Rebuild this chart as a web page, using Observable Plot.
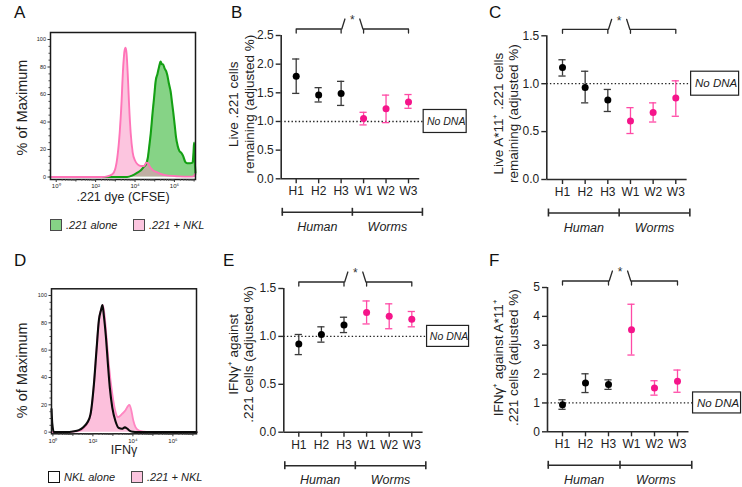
<!DOCTYPE html>
<html><head><meta charset="utf-8">
<script src="https://cdn.jsdelivr.net/npm/d3@7"></script>
<script src="https://cdn.jsdelivr.net/npm/@observablehq/plot@0.6"></script>
<style>
body{margin:0;background:#fff;}
#fig{position:relative;width:742px;height:487px;font-family:"Liberation Sans",Arial,Helvetica,sans-serif;color:#222;overflow:hidden;background:#fff}
.letter{position:absolute;font-size:17px;line-height:1;color:#111}
.legend{position:absolute;font-size:11px;font-style:italic;display:flex;align-items:center;white-space:nowrap;color:#222}
.sw{display:inline-block;width:12px;height:12px;box-sizing:border-box;margin-right:4px}
</style></head><body><div id="fig"></div>
<script>
// ---------------- DATA ----------------
const categories = ["H1","H2","H3","W1","W2","W3"];
const groupNames = ["Human","Worms"];
const categoryGroup = ["Human","Human","Human","Worms","Worms","Worms"];

// B: Live .221 cells remaining
const liveMean = [1.79,1.46,1.49,1.05,1.22,1.34];
const liveLow  = [1.49,1.34,1.28,0.94,0.98,1.23];
const liveHigh = [2.09,1.59,1.70,1.16,1.46,1.47];
const liveTicks = [0,0.5,1,1.5,2,2.5];
const liveTickLabels = ["0.0","0.5","1.0","1.5","2.0","2.5"];

// C: Live A*11+ .221 cells remaining
const a11Mean = [1.17,0.96,0.83,0.61,0.70,0.85];
const a11Low  = [1.08,0.80,0.71,0.48,0.60,0.66];
const a11High = [1.25,1.13,0.94,0.75,0.80,1.03];
const a11Ticks = [0,0.5,1,1.5];
const a11TickLabels = ["0.0","0.5","1.0","1.5"];

// E: IFNg+ against .221 cells
const ifnMean = [0.92,1.02,1.12,1.25,1.21,1.18];
const ifnLow  = [0.81,0.94,1.04,1.13,1.08,1.10];
const ifnHigh = [1.02,1.10,1.20,1.37,1.34,1.26];
const ifnTicks = [0,0.5,1,1.5];
const ifnTickLabels = ["0.0","0.5","1.0","1.5"];

// F: IFNg+ against A*11+ .221 cells
const ifnA11Mean = [0.94,1.69,1.64,3.54,1.52,1.75];
const ifnA11Low  = [0.78,1.36,1.47,2.66,1.27,1.37];
const ifnA11High = [1.11,2.01,1.80,4.42,1.77,2.14];
const ifnA11Ticks = [0,1,2,3,4,5];
const ifnA11TickLabels = ["0","1","2","3","4","5"];

const referenceValue = 1;
const referenceLabel = "No DNA";
const sigLabel = "*";

// Histograms: [log10 intensity, % of maximum]
const cfseAlone = [[-0.29,0],[3.6,0],[3.85,1],[4.1,3],[4.3,5],[4.45,7.5],[4.58,10],[4.65,14],[4.72,22],[4.8,32],[4.9,48],[4.97,58],[5.05,70],[5.14,75],[5.22,80],[5.3,84],[5.36,82],[5.42,82],[5.5,79],[5.58,77],[5.64,74],[5.72,68],[5.81,62],[5.88,54],[5.95,46],[6.02,37],[6.08,29],[6.16,23],[6.25,19],[6.35,17.5],[6.45,15],[6.55,11],[6.65,10],[6.8,10],[6.92,10.5],[6.97,18],[7.0,25],[7.03,12],[7.07,3]];
const cfseNKL = [[-0.29,0],[2.3,0],[2.6,0.5],[2.85,2],[3.0,6],[3.1,14],[3.2,28],[3.3,50],[3.4,80],[3.47,92],[3.52,94],[3.57,90],[3.63,75],[3.7,52],[3.78,32],[3.88,18],[4.0,12],[4.15,9],[4.3,8],[4.45,8],[4.58,10.5],[4.66,10],[4.75,7.5],[4.9,5],[5.1,3.5],[5.35,2],[5.7,1],[6.2,0.5],[6.8,0.3],[6.98,0.5],[7.04,2],[7.07,2]];
const ifngAlone = [[-0.07,17],[-0.03,6],[0.05,0],[0.7,0],[1.0,0.5],[1.3,1.5],[1.55,4],[1.72,7],[1.88,13],[2.05,35],[2.18,60],[2.3,82],[2.4,89],[2.48,93],[2.55,85],[2.65,70],[2.75,50],[2.85,32],[2.97,18],[3.13,8],[3.3,3],[3.45,2.5],[3.6,3.5],[3.72,2.5],[3.85,1],[4.0,0.3],[4.2,0],[7.18,0]];
const ifngNKL = [[-0.07,0],[0.8,0],[1.1,0.5],[1.4,1.5],[1.6,4],[1.78,8],[1.92,16],[2.07,38],[2.2,64],[2.32,84],[2.42,90],[2.5,93],[2.58,86],[2.68,70],[2.8,49],[2.97,28],[3.13,15],[3.25,11],[3.47,13.5],[3.63,16],[3.75,19],[3.83,20],[3.92,16],[4.02,8.5],[4.13,3.7],[4.3,1.2],[4.55,0.3],[4.8,0],[7.18,0]];
const histYTicks = [0,20,40,60,80,100];
const histYTickLabels = ["0","20","40","60","80","100"];
const histXTicks = [0,2,4,6];
const histXTickLabels = ["10\u2070","10\u00b2","10\u2074","10\u2076"];
const legendA = [".221 alone",".221 + NKL"];
const legendD = ["NKL alone",".221 + NKL"];
const panelLetters = ["A","B","C","D","E","F"];

// ---------------- DRAWING ----------------
const FONT = '"Liberation Sans", Arial, Helvetica, sans-serif';
const fig = document.getElementById("fig");
function place(node, left, top){ node.style.position="absolute"; node.style.left=left+"px"; node.style.top=top+"px"; fig.appendChild(node); }

const groupColor = {Human:"#000000", Worms:"#f5148a"};
const barColor = {Human:"#3a3a3a", Worms:"#ff4aa6"};

function scatterPanel(cfg){
  const {left, top, width, height, axisX, firstX, step, topY, zeroY, yMax, ticks, tickLabels, mean, low, high, label, labelDx, labelDy, boxW, boxH, boxFont} = cfg;
  const marginLeft = axisX - left;
  const xMin = -(firstX - axisX)/step;
  const xMax = 5.75;
  const marginRight = width - marginLeft - (xMax - xMin)*step;
  const marginTop = topY - top;
  const marginBottom = height - (zeroY - top);
  const ppu = (zeroY - topY)/yMax;
  const rows = categories.map((c,i)=>({i, c, group: categoryGroup[i], m: mean[i], lo: low[i], hi: high[i]}));
  const groups = groupNames.map(g => { const idx = rows.filter(r=>r.group===g).map(r=>r.i); return {name:g, first:d3.min(idx), last:d3.max(idx)}; });
  groups.forEach((g,k)=>{
    g.x1 = k===0 ? g.first - 0.62 : (g.first + groups[k-1].last)/2;
    g.x2 = k===groups.length-1 ? g.last + 0.62 : (g.last + groups[k+1].first)/2;
    g.mid = (g.x1 + g.x2)/2;
  });
  const groupTicks = [groups[0].x1, ...groups.map(g=>g.x2)];
  const g0 = groups[0], g1 = groups[1];
  const yb = yMax + 6.5/ppu, yT = yMax + 2.5/ppu, yP = yMax + 16.5/ppu;
  const bracket = [
    [[g0.first,yT],[g0.first,yb],[g0.last,yb],[g0.last,yT]],
    [[g0.last+0.03,yb],[g0.last+0.17,yP]],
    [[g1.first-0.17,yP],[g1.first-0.03,yb]],
    [[g1.first,yT],[g1.first,yb],[g1.last,yb],[g1.last,yT]]
  ].flatMap((p,k)=>p.map(q=>({x:q[0], y:q[1], k})));
  const boxX = 5.72;
  const lineC = "#2a2a2a";
  const chart = Plot.plot({
    width, height, marginLeft, marginRight, marginTop, marginBottom,
    style:{fontFamily:FONT, fontSize:"11px", color:"#222", background:"none", overflow:"visible"},
    x:{type:"linear", domain:[xMin, xMax], label:null},
    y:{domain:[0, yMax], label:null},
    color:{type:"identity"},
    marks:[
      Plot.ruleY([referenceValue], {x1:()=>xMin, x2:()=>boxX, stroke:"#222", strokeWidth:1.3, strokeDasharray:"1.4,2.2"}),
      Plot.rect([referenceValue], {x1:()=>boxX, x2:()=>boxX, y1:d=>d, y2:d=>d, insetLeft:-1, insetRight:-(boxW+1), insetTop:-boxH/2, insetBottom:-boxH/2, fill:"white", stroke:"#222", strokeWidth:1.2}),
      Plot.text([referenceValue], {x:()=>boxX, y:d=>d, dx:1+boxW/2, text:()=>referenceLabel, fontStyle:"italic", fontSize:boxFont, fill:"#222"}),
      Plot.ruleX([xMin], {y1:()=>0, y2:()=>yMax, stroke:lineC, strokeWidth:1.6}),
      Plot.ruleY([0], {x1:()=>xMin, x2:()=>5.5, stroke:lineC, strokeWidth:1.6}),
      Plot.axisY(ticks, {tickFormat:d=>tickLabels[ticks.indexOf(d)], tickSize:5, tickPadding:2.5, fontSize:12, stroke:lineC, strokeWidth:1.4, label:null}),
      Plot.axisX(rows.map(r=>r.i), {tickFormat:d=>categories[d], tickSize:5, tickPadding:3, fontSize:12, stroke:lineC, strokeWidth:1.4, label:null}),
      Plot.ruleX(rows, {x:"i", y1:"lo", y2:"hi", stroke:d=>barColor[d.group], strokeWidth:1.3}),
      Plot.ruleY(rows, {y:"lo", x1:"i", x2:"i", insetLeft:-3.6, insetRight:-3.6, stroke:d=>barColor[d.group], strokeWidth:1.3}),
      Plot.ruleY(rows, {y:"hi", x1:"i", x2:"i", insetLeft:-3.6, insetRight:-3.6, stroke:d=>barColor[d.group], strokeWidth:1.3}),
      Plot.dot(rows, {x:"i", y:"m", r:3.5, fill:d=>groupColor[d.group], stroke:"none"}),
      Plot.line(bracket, {x:"x", y:"y", z:"k", stroke:lineC, strokeWidth:1.3}),
      Plot.text([sigLabel], {x:()=>(g0.last+g1.first)/2, y:()=>yMax + 15/ppu, text:d=>d, fontSize:12, fill:"#333"}),
      Plot.ruleY(groups, {y:()=>0, x1:"x1", x2:"x2", dy:33.5, stroke:lineC, strokeWidth:1.6}),
      Plot.ruleX(groupTicks, {x:d=>d, y1:()=>0, y2:()=>0, insetTop:-4, insetBottom:-4, dy:33.5, stroke:lineC, strokeWidth:1.6}),
      Plot.text(groups, {x:"mid", y:()=>0, dy:48, text:"name", fontStyle:"italic", fontSize:12.5, fill:"#222"}),
      Plot.text([label], {frameAnchor:"left", textAnchor:"middle", rotate:-90, dx:labelDx, dy:labelDy, text:d=>d, fontSize:13.5, lineHeight:1.12, fill:"#222"})
    ]
  });
  place(chart, left, top);
}

function histPanel(cfg){
  const {left, top, width, height, frame, xDomain, yDomain, series, xLabel, xLabelDy, yLabelDx, yLabelDy} = cfg;
  const [fx0, fy0, fx1, fy1] = frame;
  const minorX = d3.range(0,8).flatMap(n=>d3.range(2,10).map(k=>n+Math.log10(k))).filter(v=>v>xDomain[0]&&v<xDomain[1]);
  const oddX = [1,3,5,7].filter(v=>v<xDomain[1]);
  const minorY = d3.range(0,101,5).filter(v=>!histYTicks.includes(v));
  const chart = Plot.plot({
    width, height, marginLeft: fx0-left, marginRight: left+width-fx1, marginTop: fy0-top, marginBottom: top+height-fy1,
    style:{fontFamily:FONT, fontSize:"11px", color:"#222", background:"none", overflow:"visible"},
    x:{domain:xDomain, label:null}, y:{domain:yDomain, label:null},
    marks:[
      ...series.filter(s=>s.fill).map(s=>Plot.areaY(s.data, {x:d=>d[0], y:d=>d[1], fill:s.fill, fillOpacity:s.fillOpacity, curve:"monotone-x"})),
      ...series.map(s=>Plot.lineY(s.data, {x:d=>d[0], y:d=>d[1], stroke:s.stroke, strokeWidth:s.sw, curve:"monotone-x"})),
      Plot.frame({stroke:"#1a1a1a", strokeWidth:1.5}),
      Plot.axisY(histYTicks, {tickFormat:d=>histYTickLabels[histYTicks.indexOf(d)], tickSize:2.5, tickPadding:2, fontSize:5.5, stroke:"#333", label:null}),
      Plot.axisY(minorY, {tickFormat:()=>"", tickSize:1.5, stroke:"#444", label:null}),
      Plot.axisX(histXTicks, {tickFormat:d=>histXTickLabels[histXTicks.indexOf(d)], tickSize:3, tickPadding:1.5, fontSize:6, stroke:"#333", label:null}),
      Plot.axisX(oddX, {tickFormat:()=>"", tickSize:2.5, stroke:"#333", label:null}),
      Plot.axisX(minorX, {tickFormat:()=>"", tickSize:1.6, stroke:"#444", label:null}),
      Plot.text([xLabel], {frameAnchor:"bottom", dy:xLabelDy, text:d=>d, fontSize:12.5, fill:"#222"}),
      Plot.text(["% of Maximum"], {frameAnchor:"left", textAnchor:"middle", rotate:-90, dx:yLabelDx, dy:yLabelDy, text:d=>d, fontSize:14.5, fill:"#222"})
    ]
  });
  place(chart, left, top);
}

function legend(items, left, top){
  const div = document.createElement("div");
  div.className = "legend";
  items.forEach((it,k)=>{
    const sw = document.createElement("span");
    sw.className="sw"; sw.style.background = it.fill; sw.style.border = it.border;
    const tx = document.createElement("span"); tx.textContent = it.text;
    const wrap = document.createElement("span"); wrap.style.display="inline-flex"; wrap.style.alignItems="center";
    wrap.style.width = k===0 ? "83px" : "auto";
    wrap.appendChild(sw); wrap.appendChild(tx); div.appendChild(wrap);
  });
  place(div, left, top);
}

// A
histPanel({left:0, top:0, width:200, height:240, frame:[50,32,195,179], xDomain:[-0.29,7.07], yDomain:[-1.8,105.1],
  series:[
    {data:cfseAlone, fill:"#86d386", fillOpacity:1, stroke:"#14a014", sw:2.1},
    {data:cfseNKL, fill:"#f98cc0", fillOpacity:0.5, stroke:"#ff74b8", sw:1.9}
  ], xLabel:".221 dye (CFSE)", xLabelDy:21, yLabelDx:-28, yLabelDy:1.5});
// D
histPanel({left:0, top:240, width:200, height:247, frame:[51,288.3,196,433.3], xDomain:[-0.07,7.18], yDomain:[-1.2,104.9],
  series:[
    {data:ifngNKL, fill:"#f98cc0", fillOpacity:0.55, stroke:"#ff86c2", sw:1.8},
    {data:ifngAlone, fill:null, stroke:"#0a0a0a", sw:2.1}
  ], xLabel:"IFN\u03b3", xLabelDy:20, yLabelDx:-29, yLabelDy:9});

scatterPanel({left:200, top:0, width:270, height:240, axisX:280.7, firstX:295.7, step:22.46, topY:35, zeroY:178.3, yMax:2.5,
  ticks:liveTicks, tickLabels:liveTickLabels, mean:liveMean, low:liveLow, high:liveHigh,
  label:"Live .221 cells\nremaining (adjusted %)", labelDx:-40, labelDy:-3, boxW:41, boxH:23, boxFont:10.5});
scatterPanel({left:470, top:0, width:272, height:240, axisX:546.3, firstX:562, step:22.66, topY:35.3, zeroY:179, yMax:1.5,
  ticks:a11Ticks, tickLabels:a11TickLabels, mean:a11Mean, low:a11Low, high:a11High,
  label:"Live A*11\u207a .221 cells\nremaining (adjusted %)", labelDx:-41, labelDy:6, boxW:46, boxH:24, boxFont:11.5});
scatterPanel({left:200, top:240, width:270, height:247, axisX:283.3, firstX:298.3, step:22.6, topY:288, zeroY:431.7, yMax:1.5,
  ticks:ifnTicks, tickLabels:ifnTickLabels, mean:ifnMean, low:ifnLow, high:ifnHigh,
  label:"IFN\u03b3\u207a against\n.221 cells (adjusted %)", labelDx:-43, labelDy:-6, boxW:40, boxH:21, boxFont:10.5});
scatterPanel({left:470, top:240, width:272, height:247, axisX:547, firstX:562, step:23, topY:287, zeroY:431.3, yMax:5,
  ticks:ifnA11Ticks, tickLabels:ifnA11TickLabels, mean:ifnA11Mean, low:ifnA11Low, high:ifnA11High,
  label:"IFN\u03b3\u207a against A*11\u207a\n.221 cells (adjusted %)", labelDx:-42, labelDy:-2, boxW:46, boxH:21, boxFont:11.5});

legend([{text:legendA[0], fill:"#86d386", border:"1.3px solid #4a4a4a"},{text:legendA[1], fill:"#fcc5df", border:"1.3px solid #4a4a4a"}], 50, 219);
legend([{text:legendD[0], fill:"#ffffff", border:"1.6px solid #111"},{text:legendD[1], fill:"#fcc5df", border:"1.3px solid #4a4a4a"}], 48, 471);

const letterPos = [[14,4],[231,4],[489,4],[14,252],[223,252],[489,252]];
panelLetters.forEach((L,k)=>{ const d=document.createElement("div"); d.className="letter"; d.textContent=L; place(d, letterPos[k][0], letterPos[k][1]); });
</script></body></html>
